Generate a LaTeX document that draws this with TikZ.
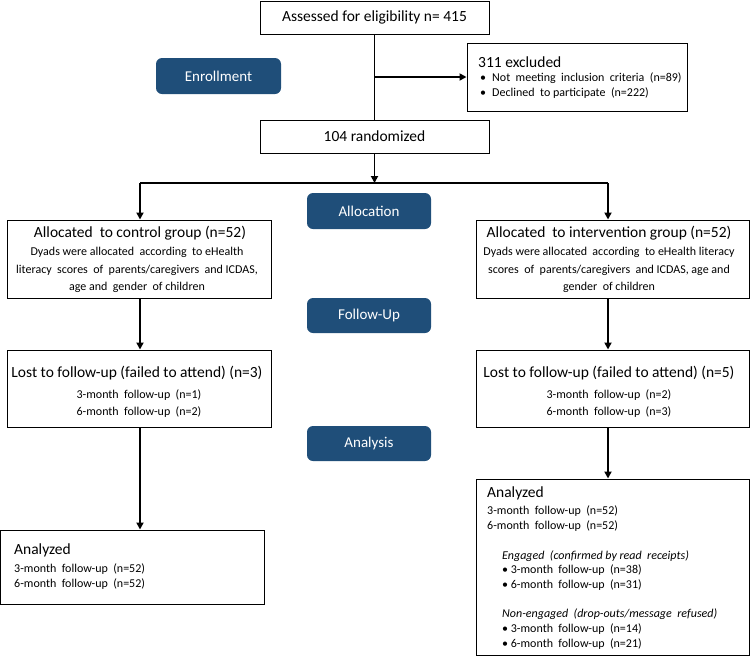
\documentclass[tikz,border=0pt]{standalone}
\usepackage{fontspec}
\setmainfont{Carlito}
\usetikzlibrary{arrows.meta}
\definecolor{pillblue}{RGB}{31,78,121}
\tikzset{
  box/.style={draw=black, line width=1pt, fill=white, inner sep=0pt},
  pill/.style={fill=pillblue, rounded corners=6pt, text=white, inner sep=0pt,
    minimum width=124pt, minimum height=36pt, font=\fontsize{15}{18}\selectfont},
  conn/.style={line width=1.8pt, draw=black},
  arr/.style={conn, -{Triangle[length=7pt,width=7pt]}},
  ttl/.style={inner sep=0pt, font=\fontsize{15.5}{18}\selectfont},
  bdy/.style={inner sep=0pt, font=\fontsize{12}{17.5}\selectfont, align=center},
  lft/.style={inner sep=0pt, font=\fontsize{12}{15}\selectfont, align=left, anchor=west},
}
\begin{document}
\begin{tikzpicture}[x=1pt,y=-1pt]
\useasboundingbox (0,0) rectangle (750,657);
% boxes
\node[box, minimum width=229pt, minimum height=33pt] (assess) at (374.5,17.5) {};
\node[box, minimum width=220pt, minimum height=68pt] (excl) at (577,77) {};
\node[box, minimum width=229pt, minimum height=33pt] (rand) at (374.5,136.5) {};
\node[box, minimum width=264pt, minimum height=78pt] (ctrl) at (139,259) {};
\node[box, minimum width=273pt, minimum height=78pt] (intv) at (612.5,259) {};
\node[box, minimum width=264pt, minimum height=77pt] (lostc) at (139,388.5) {};
\node[box, minimum width=273pt, minimum height=77pt] (losti) at (612.5,388.5) {};
\node[box, minimum width=264pt, minimum height=74pt] (anac) at (132.5,567) {};
\node[box, minimum width=273pt, minimum height=176pt] (anai) at (612.5,567) {};
% pills
\node[pill, minimum width=125pt] (enroll) at (218.5,76) {Enrollment};
\node[pill] (alloc) at (369,211) {Allocation};
\node[pill, minimum height=35pt] (fu) at (369,315.5) {Follow-Up};
\node[pill, minimum height=35pt] (anal) at (369,443.5) {Analysis};
% texts
\node[ttl] (tassess) at (assess.center) {Assessed for eligibility n= 415};
\node[ttl] (trand) at (rand.center) {104 randomized};
\node[ttl, anchor=west] (texcl) at (478,62) {311 excluded};
\node[lft] (bexcl1) at (480,78) {\textbullet\hspace{6pt}Not\ \ meeting\ \ inclusion\ \ criteria\ \ (n=89)};
\node[lft] (bexcl2) at (480,93) {\textbullet\hspace{6pt}Declined\ \ to participate\ \ (n=222)};
\node[ttl] (tctrl) at (140,233) {Allocated\ \ to control group (n=52)};
\node[bdy] (bctrl) at (137,270) {Dyads were allocated\ \ according\ \ to eHealth\\literacy\ \ scores\ \ of\ \ parents/caregivers\ \ and ICDAS,\\age and\ \ gender\ \ of children};
\node[ttl] (tintv) at (609,233) {Allocated\ \ to intervention group (n=52)};
\node[bdy] (bintv) at (609,270) {Dyads were allocated\ \ according\ \ to eHealth literacy\\scores\ \ of\ \ parents/caregivers\ \ and ICDAS, age and\\gender\ \ of children};
\node[ttl] (tlostc) at (137,373) {Lost to follow-up (failed to attend) (n=3)};
\node[bdy] (blostc) at (139,403.5) {3-month\ \ follow-up\ \ (n=1)\\6-month\ \ follow-up\ \ (n=2)};
\node[ttl] (tlosti) at (609,373) {Lost to follow-up (failed to attend) (n=5)};
\node[bdy] (blosti) at (609,403.5) {3-month\ \ follow-up\ \ (n=2)\\6-month\ \ follow-up\ \ (n=3)};
\node[ttl, anchor=west] (tanac) at (14,550) {Analyzed};
\node[lft] (banac) at (14,576.5) {3-month\ \ follow-up\ \ (n=52)\\6-month\ \ follow-up\ \ (n=52)};
\node[ttl, anchor=west] (tanai) at (487,493) {Analyzed};
\node[lft] (banai) at (487,518.5) {3-month\ \ follow-up\ \ (n=52)\\6-month\ \ follow-up\ \ (n=52)};
\node[lft] (eng) at (502,556) {\itshape Engaged\ \ (confirmed by read\ \ receipts)};
\node[lft] (beng) at (502,577.5) {\textbullet\ 3-month\ \ follow-up\ \ (n=38)\\\textbullet\ 6-month\ \ follow-up\ \ (n=31)};
\node[lft] (neng) at (502,614) {\itshape Non-engaged\ \ (drop-outs/message\ \ refused)};
\node[lft] (bneng) at (502,636.5) {\textbullet\ 3-month\ \ follow-up\ \ (n=14)\\\textbullet\ 6-month\ \ follow-up\ \ (n=21)};
% connectors
\coordinate (J) at (374.5,110);
\coordinate (S) at (374.5,183);
\coordinate (L) at (140,183);
\coordinate (R) at (608,183);
\draw[conn] (assess.south) -- (rand.north);
\draw[arr] (assess.south |- excl.west) -- (excl.west);
\draw[arr] (rand.south) -- (S);
\draw[conn] (L) -- (R);
\draw[arr] (L) -- (L |- ctrl.north);
\draw[arr] (R) -- (R |- intv.north);
\draw[arr] (L |- ctrl.south) -- (L |- lostc.north);
\draw[arr] (R |- intv.south) -- (R |- losti.north);
\draw[arr] (L |- lostc.south) -- (L |- anac.north);
\draw[arr] (R |- losti.south) -- (R |- anai.north);
\end{tikzpicture}
\end{document}
